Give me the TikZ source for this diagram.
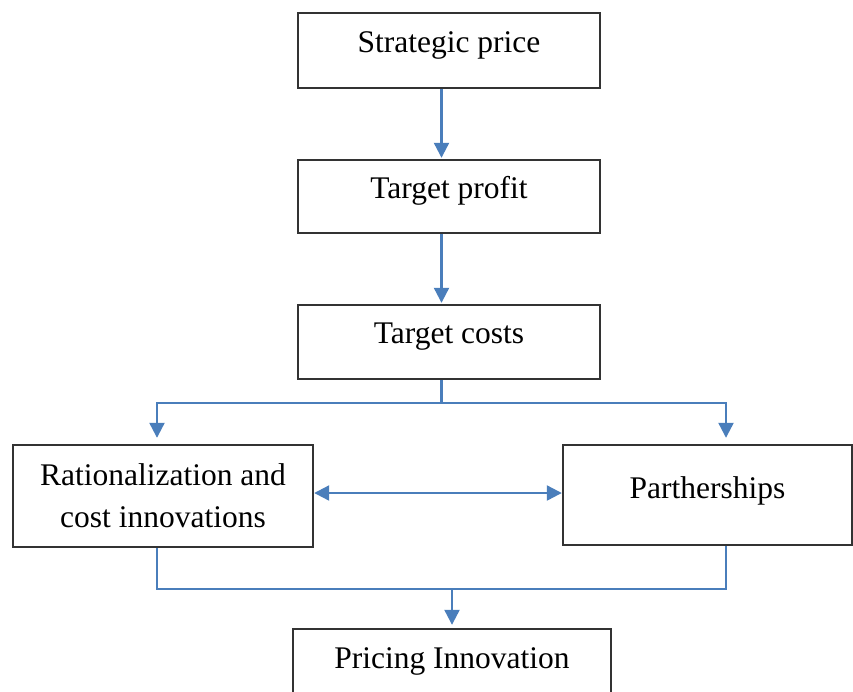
\documentclass[tikz,border=0pt]{standalone}
\usepackage{fontspec}
\setmainfont{Liberation Serif}
\usetikzlibrary{arrows.meta}
\definecolor{flowblue}{HTML}{4A7EBB}
\definecolor{boxgray}{HTML}{333333}
\begin{document}
\begin{tikzpicture}[x=1pt,y=1pt,
    box/.style={draw=boxgray,line width=2.4pt,inner sep=0pt,align=center,
        font=\fontsize{31.5}{42}\selectfont},
    link/.style={draw=flowblue,line width=2.2pt},
    tip/.tip={Triangle[length=15pt,width=15pt]},
    arr/.style={link,-tip}]
		\clip (0,0) rectangle (853,-691);
		\node[box,minimum width=302pt,text height=39pt,text depth=36pt] (sp) at (449,-50.5) {Strategic price};
		\node[box,minimum width=302pt,text height=38pt,text depth=35pt] (tp) at (449,-196.5) {Target profit};
		\node[box,minimum width=302pt,text height=38pt,text depth=36pt] (tc) at (449,-342) {Target costs};
		\node[box,minimum width=300pt,minimum height=102pt] (rc) at (163,-496) {Rationalization and\\cost innovations};
		\node[box,minimum width=289pt,text height=53pt,text depth=47pt] (pa) at (707.5,-495) {Partherships};
		\node[box,minimum width=318pt,text height=39pt,text depth=41pt] (pi) at (452,-669) {Pricing Innovation};
		\coordinate (split) at (441.5,-403);
		\coordinate (merge) at (452,-589);
		%\path[->] (sp) edge (tp);
		\draw[arr,shorten >=1pt] ([xshift=-7.5pt]sp.south) -- ([xshift=-7.5pt]tp.north);
		\draw[arr,shorten >=1pt] ([xshift=-7.5pt]tp.south) -- ([xshift=-7.5pt]tc.north);
		\draw[link] ([xshift=-7.5pt]tc.south) -- (split);
		\draw[arr,shorten >=6pt] (split) -| ([xshift=-6pt]rc.north);
		\draw[arr,shorten >=6pt] (split) -| ([xshift=18.5pt]pa.north);
		\draw[link,tip-tip] ([yshift=3pt]rc.east) -- ([yshift=3pt]rc.east -| pa.west);
		\draw[link] ([xshift=-6pt]rc.south) |- (merge);
		\draw[link] ([xshift=18.5pt]pa.south) |- (merge);
		\draw[arr,shorten >=3pt] (merge) -- (pi.north);
	\end{tikzpicture}
\end{document}
